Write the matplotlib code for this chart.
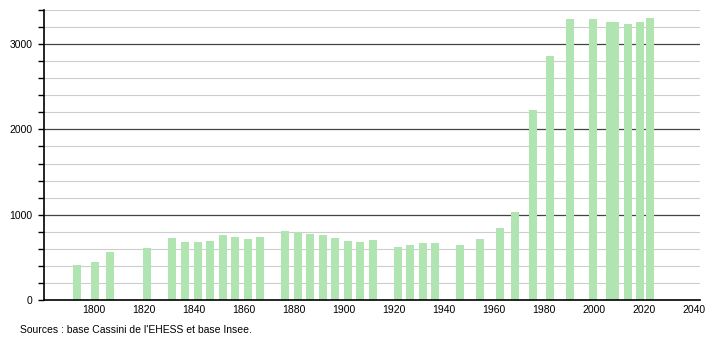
import matplotlib
matplotlib.use("Agg")
import matplotlib.pyplot as plt
import numpy as np
from matplotlib.ticker import MultipleLocator

plt.rcParams['font.family'] = ['Liberation Sans', 'DejaVu Sans']

years = [1793, 1800, 1806, 1821, 1831, 1836, 1841, 1846, 1851, 1856, 1861, 1866,
         1876, 1881, 1886, 1891, 1896, 1901, 1906, 1911, 1921, 1926, 1931, 1936,
         1946, 1954, 1962, 1968, 1975, 1982, 1990, 1999, 2006, 2008, 2013, 2018, 2022]
population = [410, 450, 565, 608, 725, 682, 682, 694, 765, 741, 714, 741,
              804, 796, 776, 765, 729, 694, 682, 706, 620, 647, 663, 663,
              647, 718, 847, 1027, 2224, 2855, 3294, 3294, 3255, 3255, 3231, 3263, 3302]
x_ticks = [1800, 1820, 1840, 1860, 1880, 1900, 1920, 1940, 1960, 1980, 2000, 2020, 2040]
y_ticks = [0, 1000, 2000, 3000]
source = "Sources : base Cassini de l'EHESS et base Insee."

fig = plt.figure(figsize=(7.1, 3.4), dpi=100)
ax = fig.add_axes([0.0615, 0.1176, 0.9245, 0.853])

ax.bar(np.array(years) + 0.5, population, width=3.2, color='#b0e4b0', zorder=3, linewidth=0)

ax.set_xlim(1780, 2042.4)
ax.set_ylim(0, 3400)
ax.set_xticks(x_ticks)
ax.set_yticks(y_ticks)
ax.yaxis.set_minor_locator(MultipleLocator(200))

for v in np.arange(200, 3401, 200):
    if v % 1000 == 0:
        ax.axhline(v, color='#444444', lw=0.9, zorder=2)
    else:
        ax.axhline(v, color='#cdcdcd', lw=0.8, zorder=1)

for s in ['top', 'right']:
    ax.spines[s].set_visible(False)
ax.spines['left'].set_linewidth(1.2)
ax.spines['bottom'].set_linewidth(1.2)
ax.spines['left'].set_zorder(4)
ax.spines['bottom'].set_zorder(4)

ax.tick_params(axis='x', length=0, labelsize=7.5, pad=3.5)
ax.tick_params(axis='y', which='both', length=4, width=1, labelsize=7.5, direction='out', pad=4)

fig.text(20.5 / 710, 1 - 330 / 340, source, fontsize=7.5, va='center', ha='left')

fig.savefig('out.png', dpi=100)
